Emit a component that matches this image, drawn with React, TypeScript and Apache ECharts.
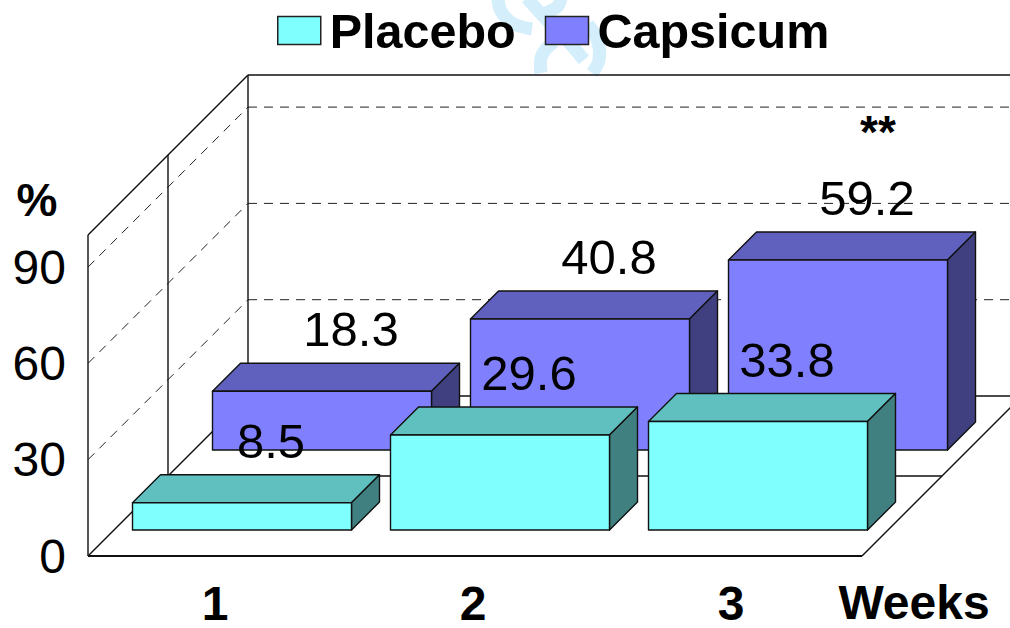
import React, { useEffect, useRef } from "react";
import * as echarts from "echarts";

const weeks = ["1", "2", "3"];
const placebo = [8.5, 29.6, 33.8];
const capsicum = [18.3, 40.8, 59.2];
const yTickValues = [30, 60, 90];
const yLabels = [0, 30, 60, 90];
const yMax = 100;

const FONT = "'Liberation Sans', Arial, sans-serif";
const WALL_DEPTH = 160;
const MID_DEPTH = 80;
const BAR_WIDTH = 219;
const BAR_DEPTH = 28;
const INK = "#111";

function barRenderer(base: number, front: string, top: string, side: string) {
  return (_params: any, api: any) => {
    const idx = api.value(0);
    const val = api.value(1);
    const [cx, yTop] = api.coord([idx, val]);
    const [, y0] = api.coord([idx, 0]);
    const l = cx + base - BAR_WIDTH / 2 - 1;
    const r = l + BAR_WIDTH;
    const t = yTop - base;
    const b = y0 - base;
    const d = BAR_DEPTH;
    const edge = { stroke: INK, lineWidth: 1.4, lineJoin: "round" };
    return {
      type: "group",
      children: [
        { type: "polygon", shape: { points: [[l, t], [r, t], [r + d, t - d], [l + d, t - d]] }, style: { fill: top, ...edge } },
        { type: "polygon", shape: { points: [[r, t], [r + d, t - d], [r + d, b - d], [r, b]] }, style: { fill: side, ...edge } },
        { type: "rect", shape: { x: l, y: t, width: r - l, height: b - t }, style: { fill: front, ...edge } },
        {
          type: "text",
          style: {
            text: String(val),
            x: cx + base + 28,
            y: t - 62,
            align: "center",
            verticalAlign: "middle",
            fill: "#000",
            font: `49px ${FONT}`,
          },
        },
      ],
    };
  };
}

function wallRenderer(_params: any, api: any) {
  const band = api.size([1, 0])[0];
  const left = api.coord([0, 0])[0] - band / 2;
  const right = left + band * weeks.length;
  const y0 = api.coord([0, 0])[1];
  const yTop = api.coord([0, yMax])[1];
  const D = WALL_DEPTH;
  const M = MID_DEPTH;
  const W = 1010 + 40;
  const solid = { stroke: INK, lineWidth: 1.4 };
  const dash = { stroke: "#222", lineWidth: 1, lineDash: [9, 7] };
  const line = (x1: number, y1: number, x2: number, y2: number, style: any) => ({
    type: "line",
    shape: { x1, y1, x2, y2 },
    style,
  });
  const children: any[] = [];
  yTickValues.forEach((v) => {
    const y = api.coord([0, v])[1];
    children.push(line(left, y, left + D, y - D, dash));
    children.push(line(left + D, y - D, W, y - D, dash));
  });
  children.push(
    line(left, yTop, left, y0, solid),
    line(left, yTop, left + D, yTop - D, solid),
    line(left + D, yTop - D, W, yTop - D, solid),
    line(left + D, yTop - D, left + D, y0 - D, solid),
    line(left + M, yTop - M, left + M, y0 - M, solid),
    line(left, y0, left + D, y0 - D, solid),
    line(left + D, y0 - D, W, y0 - D, solid),
    line(left + M, y0 - M, right + M, y0 - M, solid),
    line(right, y0, right + D, y0 - D, solid),
    line(left, y0, right, y0, { stroke: INK, lineWidth: 2.2 })
  );
  return { type: "group", children };
}

const waterStyle = { stroke: "#d4effb", lineWidth: 13, fill: "none" as const };
const waterStrokes: number[][][] = [
  [[498, -2], [501, 11], [512, 23], [532, 29]],
  [[527, -2], [545, 18], [565, 38], [584, 60]],
  [[554, 42], [542, 55], [541, 73]],
  [[588, 24], [598, 42], [599, 60], [592, 73]],
  [[561, -2], [557, 7], [545, 13]],
];

export default function App() {
  const ref = useRef<HTMLDivElement>(null);
  useEffect(() => {
    const chart = echarts.init(ref.current!, undefined, { renderer: "svg" });
    const option: any = {
      animation: false,
      backgroundColor: "#fff",
      grid: { left: 88, width: 774, top: 235, height: 321, outerBoundsMode: "none", containLabel: false },
      xAxis: {
        type: "category",
        data: weeks,
        name: "Weeks",
        nameLocation: "end",
        nameGap: 52,
        nameTextStyle: {
          color: "#000",
          fontFamily: FONT,
          fontWeight: "bold",
          fontSize: 48,
          lineHeight: 40,
          align: "center",
          verticalAlign: "top",
          padding: [26, 0, 0, 0],
        },
        axisLine: { show: false },
        axisTick: { show: false },
        axisLabel: {
          color: "#000",
          fontFamily: FONT,
          fontWeight: "bold",
          fontSize: 48,
          margin: 27,
          lineHeight: 40,
          padding: [0, 4, 0, 0],
        },
      },
      yAxis: {
        type: "value",
        min: 0,
        max: yMax,
        interval: 30,
        splitLine: { show: false },
        axisLine: { show: false },
        axisTick: { show: false },
        axisLabel: {
          color: "#000",
          fontFamily: FONT,
          fontSize: 48,
          margin: 22,
          formatter: (v: number) => (yLabels.includes(v) ? String(v) : ""),
        },
      },
      legend: {
        left: 272,
        top: 1,
        data: ["Placebo", "Capsicum"],
        icon: "rect",
        itemWidth: 43,
        itemHeight: 28,
        itemGap: 29,
        itemStyle: { borderColor: "#222", borderWidth: 1.5 },
        textStyle: {
          color: "#000",
          fontFamily: FONT,
          fontWeight: "bold",
          fontSize: 48.5,
          padding: [0, 0, 0, 4],
        },
      },
      graphic: [
        ...waterStrokes.map((pts) => ({
          type: "polyline",
          z: 0,
          shape: { points: pts, smooth: 0.4 },
          style: waterStyle,
        })),
        {
          type: "text",
          z: 20,
          x: 37,
          y: 200,
          style: { text: "%", align: "center", verticalAlign: "middle", fill: "#000", font: `bold 46px ${FONT}` },
        },
        {
          type: "text",
          z: 20,
          x: 878,
          y: 132,
          style: { text: "**", align: "center", verticalAlign: "middle", fill: "#000", font: `bold 46px ${FONT}` },
        },
      ],
      series: [
        {
          type: "custom",
          name: "walls",
          silent: true,
          clip: false,
          renderItem: wallRenderer,
          encode: { x: 0, y: 1 },
          data: [[0, 0]],
        },
        {
          type: "custom",
          name: "Capsicum",
          clip: false,
          itemStyle: { color: "#8080FF" },
          renderItem: barRenderer(106, "#8080FF", "#6060BF", "#404080"),
          encode: { x: 0, y: 1 },
          data: capsicum.map((v, i) => [i, v]),
        },
        {
          type: "custom",
          name: "Placebo",
          clip: false,
          itemStyle: { color: "#80FFFF" },
          renderItem: barRenderer(26, "#80FFFF", "#60BFBF", "#408080"),
          encode: { x: 0, y: 1 },
          data: placebo.map((v, i) => [i, v]),
        },
      ],
    };
    chart.setOption(option);
    return () => chart.dispose();
  }, []);
  return (
    <div
      ref={ref}
      style={{ position: "absolute", left: 0, top: 0, width: 1010, height: 628 }}
    />
  );
}
